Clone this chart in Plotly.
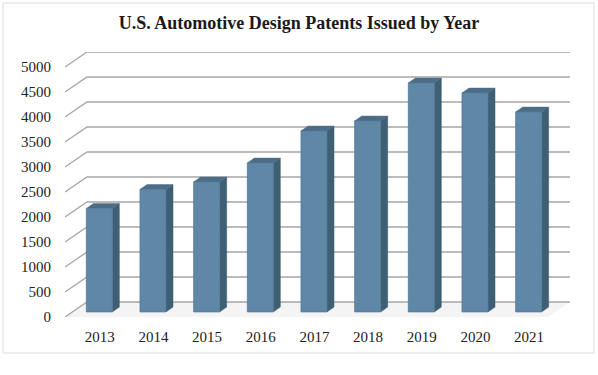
import plotly.graph_objects as go

years = ["2013", "2014", "2015", "2016", "2017", "2018", "2019", "2020", "2021"]
patents = [2070, 2450, 2600, 2980, 3620, 3820, 4580, 4380, 4000]
y_ticks = [0, 500, 1000, 1500, 2000, 2500, 3000, 3500, 4000, 4500, 5000]

# oblique 3D projection parameters (in data units)
DX = 0.41      # horizontal shift from front to back wall (category units)
DY = 300       # vertical shift from front to back wall (value units)
BAR_W = 0.484  # bar width (category units)
D0, D1 = 0.34, 0.66  # bar depth span (0 front, 1 back)

n = len(years)

def proj(x, v, d):
    return x + d * DX, v + d * DY

fig = go.Figure()

# floor
fx, fy = [], []
for (x, v, d) in [(0, 0, 0), (n, 0, 0), (n, 0, 1), (0, 0, 1), (0, 0, 0)]:
    px, py = proj(x, v, d)
    fx.append(px); fy.append(py)
fig.add_trace(go.Scatter(x=fx, y=fy, mode="lines", fill="toself",
                         fillcolor="rgba(0,0,0,0.045)", line=dict(width=0),
                         hoverinfo="skip", showlegend=False))

# gridlines: diagonal on left wall + line on back wall
gx, gy = [], []
for v in y_ticks:
    x0, y0 = proj(0, v, 0)
    x1, y1 = proj(0, v, 1)
    x2, y2 = proj(n, v, 1)
    gx += [x0, x1, x2, None]
    gy += [y0, y1, y2, None]
fig.add_trace(go.Scatter(x=gx, y=gy, mode="lines",
                         line=dict(color="#a6a6a6", width=1.3),
                         hoverinfo="skip", showlegend=False))

# bars
sx, sy, tx, ty, frx, fry = [], [], [], [], [], []
for i, v in enumerate(patents):
    xl = i + 0.5 - BAR_W / 2
    xr = i + 0.5 + BAR_W / 2
    pts = [proj(xl, 0, D0), proj(xr, 0, D0), proj(xr, v, D0), proj(xl, v, D0), proj(xl, 0, D0)]
    frx += [p[0] for p in pts] + [None]
    fry += [p[1] for p in pts] + [None]
    pts = [proj(xr, 0, D0), proj(xr, 0, D1), proj(xr, v, D1), proj(xr, v, D0), proj(xr, 0, D0)]
    sx += [p[0] for p in pts] + [None]
    sy += [p[1] for p in pts] + [None]
    pts = [proj(xl, v, D0), proj(xr, v, D0), proj(xr, v, D1), proj(xl, v, D1), proj(xl, v, D0)]
    tx += [p[0] for p in pts] + [None]
    ty += [p[1] for p in pts] + [None]

fig.add_trace(go.Scatter(x=sx, y=sy, mode="lines", fill="toself", fillcolor="#3f5f74",
                         line=dict(color="#3f5f74", width=0.5), hoverinfo="skip", showlegend=False))
fig.add_trace(go.Scatter(x=tx, y=ty, mode="lines", fill="toself", fillcolor="#4c6d85",
                         line=dict(color="#4c6d85", width=0.5), hoverinfo="skip", showlegend=False))
fig.add_trace(go.Scatter(x=frx, y=fry, mode="lines", fill="toself", fillcolor="#5f88a7",
                         line=dict(color="#54799a", width=0.8), hoverinfo="skip", showlegend=False))

label_pos = [i + 0.5 + 0.36 * DX for i in range(n)]
serif = "Liberation Serif, Times New Roman, serif"

fig.update_layout(
    width=598, height=375,
    paper_bgcolor="white", plot_bgcolor="white",
    margin=dict(l=65, r=28, t=52, b=58),
    title=dict(text="<b>U.S. Automotive Design Patents Issued by Year</b>",
               x=0.5, xanchor="center", y=0.94, yanchor="middle",
               font=dict(family=serif, size=18, color="#1a1a1a")),
    xaxis=dict(range=[0, n + DX], showgrid=False, zeroline=False, showline=False,
               tickmode="array", tickvals=label_pos, ticktext=years, ticks="",
               ticklabelstandoff=9,
               tickfont=dict(family=serif, size=15, color="#222"),
               fixedrange=True),
    yaxis=dict(range=[0, 5300], showgrid=False, zeroline=False, showline=False,
               tickmode="array", tickvals=y_ticks, ticktext=[str(t) for t in y_ticks], ticks="",
               ticklabelstandoff=13,
               tickfont=dict(family=serif, size=15, color="#222"),
               fixedrange=True),
)
# outer chart border
fig.add_shape(type="rect", xref="paper", yref="paper",
              x0=-62 / 505, x1=1 + 24 / 505, y0=-36 / 265, y1=1 + 49 / 265,
              line=dict(color="#dcdcdc", width=1), layer="below")

fig.write_html("out.html", post_script="document.body.style.margin='0';",
               config={"displayModeBar": False})
